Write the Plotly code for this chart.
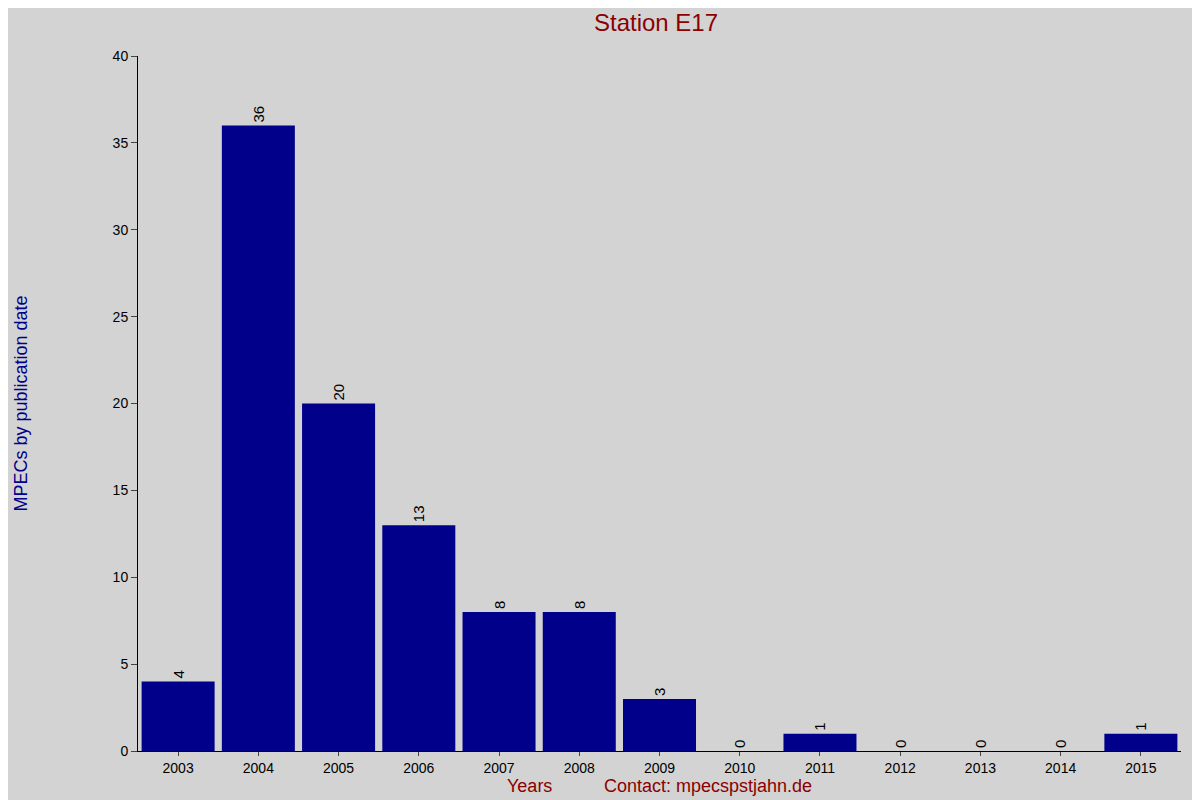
import plotly.graph_objects as go

years = ["2003", "2004", "2005", "2006", "2007", "2008", "2009",
         "2010", "2011", "2012", "2013", "2014", "2015"]
mpecs = [4, 36, 20, 13, 8, 8, 3, 0, 1, 0, 0, 0, 1]

fig = go.Figure()
fig.add_trace(go.Bar(x=years, y=mpecs, marker_color="#00008b",
                     marker_line_width=0,
                     text=[str(v) for v in mpecs], textposition="outside",
                     textangle=-90, cliponaxis=False,
                     textfont=dict(color="black", size=15)))
fig.update_layout(
    width=1200, height=800,
    paper_bgcolor="#d3d3d3", plot_bgcolor="#d3d3d3",
    margin=dict(l=104, r=27, t=48, b=57),
    font=dict(family="Liberation Sans, Arial", size=14, color="black"),
    bargap=0.09, showlegend=False,
    title=dict(text="Station E17", x=0.54, xanchor="center", y=0.992,
               yanchor="top", font=dict(color="#8b0000", size=24)),
    annotations=[
        dict(text="Years", x=0.375, y=-0.033, xref="paper", yref="paper",
             yanchor="top", showarrow=False,
             font=dict(color="#8b0000", size=18)),
        dict(text="Contact: mpecspstjahn.de", x=0.445, y=-0.033,
             xref="paper", yref="paper", xanchor="left", yanchor="top",
             showarrow=False, font=dict(color="#8b0000", size=18)),
    ],
)
fig.update_xaxes(showline=True, linecolor="black", ticks="outside",
                 ticklen=4, showgrid=False)
fig.update_yaxes(range=[0, 40], dtick=5, showline=True, linecolor="black",
                 ticks="outside", ticklen=6, showgrid=False, zeroline=False,
                 title=dict(text="MPECs by publication date", standoff=80,
                            font=dict(color="#00008b", size=18)))
fig.write_html("out.html")
